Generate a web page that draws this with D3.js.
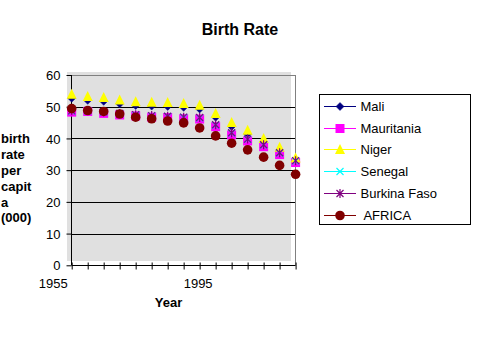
<!DOCTYPE html>
<html><head><meta charset="utf-8">
<script src="https://cdn.jsdelivr.net/npm/d3@7"></script>
<style>body{margin:0;background:#fff}svg{display:block}text{font-family:Arial,"Liberation Sans",sans-serif}</style>
</head><body><svg id="c" width="480" height="355"></svg>
<script>
const years = [1955,1960,1965,1970,1975,1980,1985,1990,1995,2000,2005,2010,2015,2020,2025];
const xTickLabels = [1955,1995];
const yTicks = [0,10,20,30,40,50,60];
const mali       = [52.7,52.0,51.7,50.9,50.4,50.2,50.1,49.8,49.3,46.7,43.8,41.4,38.8,36.0,32.6];
const mauritania = [48.3,48.5,47.9,47.4,47.1,46.7,46.6,46.2,46.1,43.7,41.1,39.2,37.4,34.9,32.4];
const niger      = [53.9,53.2,52.9,52.1,51.6,51.4,51.3,51.0,50.5,47.9,45.0,42.6,40.0,37.2,33.8];
const senegal    = [48.6,48.7,48.3,47.8,47.4,47.1,46.9,46.6,46.5,44.2,41.7,39.7,37.9,35.4,32.9];
const burkina    = [48.7,48.8,48.4,47.9,47.5,47.2,47.0,46.7,46.6,44.3,41.8,39.8,38.0,35.5,33.0];
const africa     = [49.4,48.8,48.5,47.7,46.7,46.2,45.5,44.9,43.3,40.8,38.5,36.4,34.1,31.5,28.7];
const seriesNames = ["Mali","Mauritania","Niger","Senegal","Burkina Faso"," AFRICA"];

const series = [
  {name:seriesNames[0], values:mali, color:"#000080", shape:"diamond"},
  {name:seriesNames[1], values:mauritania, color:"#FF00FF", shape:"square"},
  {name:seriesNames[2], values:niger, color:"#FFFF00", shape:"triangle"},
  {name:seriesNames[3], values:senegal, color:"#00FFFF", shape:"x"},
  {name:seriesNames[4], values:burkina, color:"#800080", shape:"star"},
  {name:seriesNames[5], values:africa, color:"#800000", shape:"circle"}
];

const svg = d3.select("#c");
const x = d3.scalePoint().domain(years).range([71.7,295.6]).padding(0);
const y = d3.scaleLinear().domain([0,60]).range([265.3,75]);

// plot background (offset as in reference)
svg.append("rect").attr("x",67).attr("y",72).attr("width",224).attr("height",189).attr("fill","#e0e0e0");

// gridlines
svg.append("g").selectAll("line").data(yTicks.filter(d=>d>0)).join("line")
  .attr("x1",71.7).attr("x2",295.6).attr("y1",d=>Math.round(y(d))+0.5).attr("y2",d=>Math.round(y(d))+0.5)
  .attr("stroke",d=>d===60?"#808080":"#000").attr("stroke-width",1);
// right border
svg.append("line").attr("x1",295.5).attr("x2",295.5).attr("y1",y(60)).attr("y2",y(0)).attr("stroke","#808080");

// y axis
const yAxis = svg.append("g").attr("transform","translate(71.5,0)")
  .call(d3.axisLeft(y).tickValues(yTicks).tickSize(5).tickPadding(6).tickFormat(d3.format("d")));
yAxis.select(".domain").attr("stroke","#000").attr("d",`M0,${y(60)}V${y(0)}`);
yAxis.selectAll(".tick line").attr("stroke","#000");
yAxis.selectAll("text").attr("font-size",13).attr("fill","#000").attr("font-family","Arial, Liberation Sans, sans-serif").attr("dy","0.36em");

// x axis
const xAxis = svg.append("g").attr("transform",`translate(0,${Math.round(y(0))+0.5})`)
  .call(d3.axisBottom(x).tickSize(0).tickFormat(""));
xAxis.select(".domain").attr("stroke","#000").attr("d",`M71.7,0H295.6`);
xAxis.selectAll(".tick").append("line").attr("y1",-3).attr("y2",4).attr("stroke","#000");
svg.append("g").selectAll("text").data(xTickLabels).join("text")
  .attr("x",(d,i)=>i===0?x(d)-4:x(d)-1.5).attr("y",287.5)
  .attr("text-anchor",(d,i)=>i===0?"end":"middle").attr("font-size",13).text(d=>d);

// marker shapes
function drawMarker(g, shape, color){
  if(shape==="diamond") g.append("path").attr("d","M0,-4L4,0L0,4L-4,0Z").attr("fill",color).attr("stroke",color).attr("stroke-width",0.5);
  else if(shape==="square") g.append("rect").attr("x",-4.5).attr("y",-4.5).attr("width",9).attr("height",9).attr("fill",color);
  else if(shape==="triangle") g.append("path").attr("d","M0,-5.5L5,4.5L-5,4.5Z").attr("fill",color);
  else if(shape==="x") g.append("path").attr("d","M-3.5,-3.5L3.5,3.5M-3.5,3.5L3.5,-3.5").attr("stroke",color).attr("stroke-width",1.2);
  else if(shape==="star") g.append("path").attr("d","M-3.5,-3.5L3.5,3.5M-3.5,3.5L3.5,-3.5M0,-4.5V4.5").attr("stroke",color).attr("stroke-width",1.2);
  else if(shape==="circle") g.append("circle").attr("r",4.8).attr("fill",color);
}

series.forEach(s=>{
  const g = svg.append("g");
  s.values.forEach((v,i)=>{
    const m = g.append("g").attr("transform",`translate(${x(years[i])},${y(v)})`);
    drawMarker(m, s.shape, s.color);
  });
});

// title
svg.append("text").attr("x",240).attr("y",34.5).attr("text-anchor","middle")
  .attr("font-size",16).attr("font-weight","bold").text("Birth Rate");
// axis titles
svg.append("text").attr("x",168.5).attr("y",306.5).attr("text-anchor","middle")
  .attr("font-size",13).attr("font-weight","bold").text("Year");
const yt = svg.append("text").attr("font-size",13).attr("font-weight","bold");
["birth","rate","per","capit","a","(000)"].forEach((t,i)=>{
  yt.append("tspan").attr("x",1).attr("y",143.3+i*15.8).text(t);
});

// legend
const lg = svg.append("g");
lg.append("rect").attr("x",319.5).attr("y",94.5).attr("width",151).attr("height",130).attr("fill","#fff").attr("stroke","#000");
series.forEach((s,i)=>{
  const cy = 105.7 + i*21.85;
  lg.append("line").attr("x1",324).attr("x2",356).attr("y1",Math.round(cy)+0.5).attr("y2",Math.round(cy)+0.5).attr("stroke",s.color);
  const m = lg.append("g").attr("transform",`translate(340,${Math.round(cy)+0.5})`);
  drawMarker(m, s.shape, s.color);
  lg.append("text").attr("x",360.5).attr("y",cy+5).attr("font-size",13).attr("xml:space","preserve").style("white-space","pre").text(s.name);
});
</script></body></html>
